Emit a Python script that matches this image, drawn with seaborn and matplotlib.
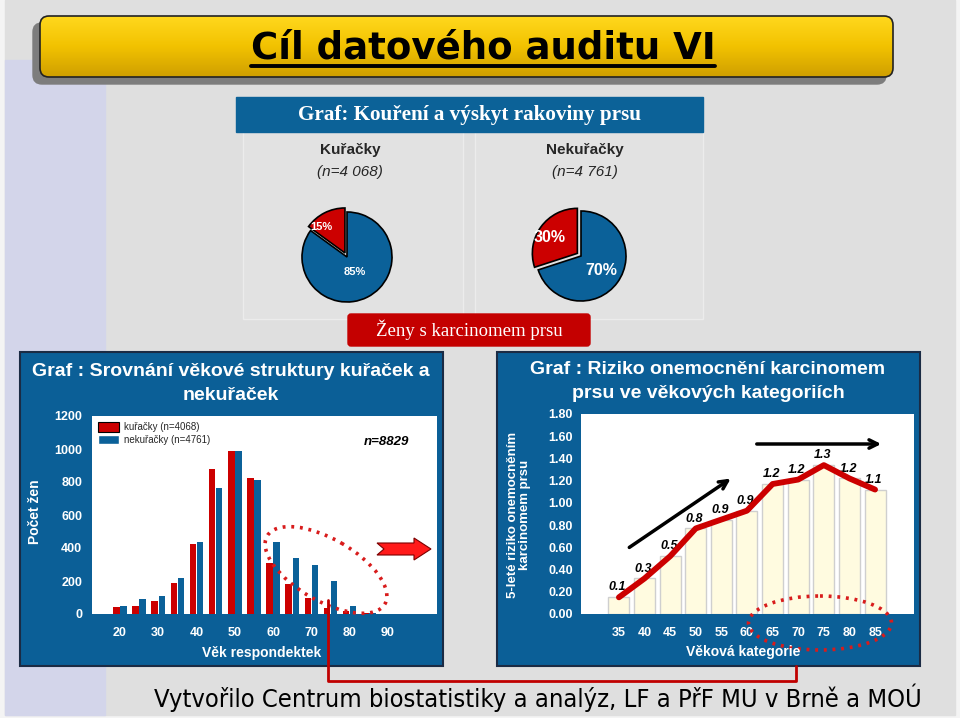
import numpy as np
import pandas as pd
import matplotlib
matplotlib.use("Agg")
import matplotlib.pyplot as plt
import seaborn as sns
from matplotlib.patches import Rectangle, FancyBboxPatch, Ellipse, Polygon, Patch
from matplotlib.colors import LinearSegmentedColormap

# ---------------- data ----------------
age_groups = [20, 25, 30, 35, 40, 45, 50, 55, 60, 65, 70, 75, 80, 85, 90]
smokers = [42, 46, 80, 187, 423, 878, 986, 823, 308, 179, 95, 36, 16, 6, 3]
nonsmokers = [46, 91, 111, 221, 435, 765, 986, 813, 435, 340, 296, 197, 50, 4, 3]
age_tick_labels = ["20", "30", "40", "50", "60", "70", "80", "90"]
series_names = ["kuřačky (n=4068)", "nekuřačky (n=4761)"]

risk_ages = [35, 40, 45, 50, 55, 60, 65, 70, 75, 80, 85]
risk = [0.15, 0.32, 0.52, 0.77, 0.85, 0.93, 1.17, 1.21, 1.34, 1.22, 1.12]
risk_labels = ["0.1", "0.3", "0.5", "0.8", "0.9", "0.9", "1.2", "1.2", "1.3", "1.2", "1.1"]

pie_smokers = [15, 85]
pie_nonsmokers = [30, 70]
pie_smokers_labels = ["15%", "85%"]
pie_nonsmokers_labels = ["30%", "70%"]

RED = "#cc0000"
BLUE = "#0b6199"
PANEL = "#0b5f97"
CREAM = "#fffbe0"

sns.set_theme(style="white")
plt.rcParams["font.family"] = ["Liberation Sans", "DejaVu Sans"]

W, H = 960, 718
fig = plt.figure(figsize=(9.6, 7.18), dpi=100, facecolor="#f4f4f4")


def px(x0, y0, x1, y1):
    return [x0 / W, 1 - y1 / H, (x1 - x0) / W, (y1 - y0) / H]


# ---------------- background ----------------
bg = fig.add_axes([0, 0, 1, 1], zorder=0)
bg.set_xlim(0, W)
bg.set_ylim(H, 0)
bg.axis("off")
bg.add_patch(Rectangle((5, 0), 950, 715, color="#dfdfdf", zorder=0))
bg.add_patch(Rectangle((5, 60), 100, 655, color="#d3d5ea", zorder=0.5))

# title box
bg.add_patch(FancyBboxPatch((33, 23), 853, 61, boxstyle="round,pad=0,rounding_size=9",
                            color="#7d7d7d", zorder=1))
box = FancyBboxPatch((40, 16), 853, 61, boxstyle="round,pad=0,rounding_size=9",
                     facecolor="none", edgecolor="#222222", lw=1.2, zorder=3)
bg.add_patch(box)
grad = np.linspace(0, 1, 100).reshape(-1, 1)
cmap = LinearSegmentedColormap.from_list("yel", ["#ffd81e", "#f2c200", "#cf9f00"])
im = bg.imshow(grad, extent=(40, 893, 77, 16), cmap=cmap, aspect="auto", zorder=2)
im.set_clip_path(box)
bg.set_xlim(0, W)
bg.set_ylim(H, 0)

# pie header & frames
bg.add_patch(Rectangle((243, 122), 220, 197, facecolor="#e2e2e2", edgecolor="#ececec", lw=1, zorder=1))
bg.add_patch(Rectangle((475, 122), 228, 197, facecolor="#e2e2e2", edgecolor="#ececec", lw=1, zorder=1))
bg.add_patch(Rectangle((236, 97), 467, 35, color="#0c6298", zorder=2))
bg.add_patch(FancyBboxPatch((348, 314), 242, 32, boxstyle="round,pad=0,rounding_size=3",
                            color="#c40000", zorder=2))

# chart panels
bg.add_patch(Rectangle((20, 352), 423, 314, facecolor=PANEL, edgecolor="#1b2b44", lw=1.5, zorder=2))
bg.add_patch(Rectangle((497, 352), 423, 314, facecolor=PANEL, edgecolor="#1b2b44", lw=1.5, zorder=2))

# ---------------- left chart: age structure ----------------
df1 = pd.DataFrame({
    "age": [str(a) for a in age_groups] * 2,
    "count": smokers + nonsmokers,
    "group": [series_names[0]] * len(age_groups) + [series_names[1]] * len(age_groups),
})
ax1 = fig.add_axes(px(92, 416, 437, 614), zorder=5)
sns.barplot(data=df1, x="age", y="count", hue="group", order=[str(a) for a in age_groups],
            hue_order=series_names, palette=[RED, BLUE], width=0.74, gap=0.08,
            saturation=1, legend=False, ax=ax1, linewidth=0)
ax1.set_facecolor("white")
ax1.set_xlim(-1.46, 16.56)
ax1.set_ylim(0, 1200)
ax1.set_yticks(range(0, 1201, 200))
ax1.set_xticks(range(0, len(age_groups), 2))
ax1.set_xticklabels(age_tick_labels)
ax1.tick_params(axis="both", length=0, colors="white", labelsize=9)
ax1.tick_params(axis="x", pad=9)
ax1.tick_params(axis="y", pad=7)
for lab in ax1.get_xticklabels() + ax1.get_yticklabels():
    lab.set_fontweight("bold")
ax1.set_xlabel("")
ax1.set_ylabel("")
for s in ax1.spines.values():
    s.set_visible(False)
ax1.legend(handles=[Patch(facecolor=RED, edgecolor="black", lw=0.8), Patch(facecolor=BLUE)],
           labels=series_names, loc="upper left", frameon=False, fontsize=7,
           handlelength=2.2, handleheight=1.2, borderaxespad=0.2, labelspacing=0.25,
           handletextpad=0.5)

# ---------------- right chart: risk ----------------
ax2 = fig.add_axes(px(581, 414, 914, 614), zorder=5)
sns.barplot(x=[str(a) for a in risk_ages], y=risk, color=CREAM, edgecolor="#cfcfcf",
            linewidth=1, width=0.82, saturation=1, ax=ax2)
sns.lineplot(x=np.arange(len(risk)), y=risk, color=RED, lw=4.2, ax=ax2, zorder=4,
             solid_capstyle="round", solid_joinstyle="round")
for i, (v, t) in enumerate(zip(risk, risk_labels)):
    ax2.text(i - 0.05, v + 0.035, t, ha="center", va="bottom", fontsize=9,
             fontweight="bold", fontstyle="italic", color="black", zorder=3)
ax2.set_facecolor("white")
ax2.set_xlim(-1.48, 11.52)
ax2.set_ylim(0, 1.8)
ax2.set_yticks(np.arange(0, 1.81, 0.2))
ax2.set_yticklabels([f"{v:.2f}" for v in np.arange(0, 1.81, 0.2)])
ax2.tick_params(axis="both", length=0, colors="white", labelsize=9)
ax2.tick_params(axis="x", pad=9)
ax2.tick_params(axis="y", pad=6)
for lab in ax2.get_xticklabels() + ax2.get_yticklabels():
    lab.set_fontweight("bold")
ax2.set_xlabel("")
ax2.set_ylabel("")
for s in ax2.spines.values():
    s.set_visible(False)

# ---------------- pies ----------------
R = 45
for cx, cy, vals, labs, lpos, fs in [
    (347, 257, pie_smokers, pie_smokers_labels, [(-0.56, 0.67), (0.18, -0.33)], 8),
    (581, 256, pie_nonsmokers, pie_nonsmokers_labels, [(-0.69, 0.40), (0.45, -0.32)], 11.5),
]:
    axp = fig.add_axes(px(cx - 60, cy - 60, cx + 60, cy + 60), zorder=5)
    axp.pie(vals, colors=[RED, BLUE], startangle=90, counterclock=True, explode=[0.1, 0],
            wedgeprops=dict(edgecolor="black", linewidth=1.2))
    axp.set_xlim(-60 / R, 60 / R)
    axp.set_ylim(-60 / R, 60 / R)
    axp.set_aspect("equal")
    axp.axis("off")
    for (lx, ly), t in zip(lpos, labs):
        axp.text(lx, ly, t, ha="center", va="center", color="white", fontsize=fs,
                 fontweight="bold")

# ---------------- overlay ----------------
ov = fig.add_axes([0, 0, 1, 1], zorder=10)
ov.set_xlim(0, W)
ov.set_ylim(H, 0)
ov.axis("off")
ov.patch.set_alpha(0)

title = ov.text(483, 48, "Cíl datového auditu VI", ha="center", va="center", fontsize=26.7,
                fontweight="bold", family="DejaVu Sans", color="black")
ov.text(469, 115, "Graf: Kouření a výskyt rakoviny prsu", ha="center", va="center",
        fontsize=15.2, fontweight="bold", family="Liberation Serif", color="white")
ov.text(350, 150, "Kuřačky", ha="center", va="center", fontsize=11, fontweight="bold")
ov.text(350, 172, "(n=4 068)", ha="center", va="center", fontsize=11, fontstyle="italic")
ov.text(585, 150, "Nekuřačky", ha="center", va="center", fontsize=11, fontweight="bold")
ov.text(585, 172, "(n=4 761)", ha="center", va="center", fontsize=11, fontstyle="italic")
ov.text(469, 330, "Ženy s karcinomem prsu", ha="center", va="center", fontsize=13.5,
        family="Liberation Serif", color="white")

ov.text(231, 371, "Graf : Srovnání věkové struktury kuřaček a", ha="center", va="center",
        fontsize=14, fontweight="bold", color="white")
ov.text(231, 395, "nekuřaček", ha="center", va="center", fontsize=14, fontweight="bold",
        color="white")
ov.text(35, 512, "Počet žen", ha="center", va="center", rotation=90, fontsize=10,
        fontweight="bold", color="white")
ov.text(262, 653, "Věk respondektek", ha="center", va="center", fontsize=10,
        fontweight="bold", color="white")
ov.text(386, 442, "n=8829", ha="center", va="center", fontsize=9.5, fontweight="bold",
        fontstyle="italic", color="black")

ov.text(708, 370, "Graf : Riziko onemocnění karcinomem", ha="center", va="center",
        fontsize=14, fontweight="bold", color="white")
ov.text(708, 394, "prsu ve věkových kategoriích", ha="center", va="center",
        fontsize=14, fontweight="bold", color="white")
ov.text(519, 515, "5-leté riziko onemocněním\nkarcinomem prsu", ha="center", va="center",
        rotation=90, fontsize=9.5, fontweight="bold", color="white", linespacing=1.1)
ov.text(743, 652, "Věková kategorie", ha="center", va="center", fontsize=10,
        fontweight="bold", color="white")

ov.text(538, 698, "Vytvořilo Centrum biostatistiky a analýz, LF a PřF MU v Brně a MOÚ",
        ha="center", va="center", fontsize=18.3, family="DejaVu Sans",
        fontstretch="condensed", color="black")

# red block arrow (left chart)
ov.add_patch(Polygon([(377, 543), (414, 543), (414, 538), (431, 549), (414, 560),
                      (414, 555), (377, 555), (384, 549)], closed=True,
                     facecolor="#ff1a1a", edgecolor="#7a0000", lw=0.8))

# dotted ellipses
ov.add_patch(Ellipse((326, 570), 136, 62, angle=30, fill=False, edgecolor="#d81c1c",
                     lw=2.6, linestyle=(0, (0.8, 1.6))))
ov.add_patch(Ellipse((820, 623), 143, 54, angle=0, fill=False, edgecolor="#d81c1c",
                     lw=2.6, linestyle=(0, (0.8, 1.6))))

# connector
ov.plot([328, 328, 796, 796], [600, 681, 681, 666], color="#c00000", lw=2)

# black arrows
ov.annotate("", xy=(733, 477), xytext=(627, 549),
            arrowprops=dict(arrowstyle="->,head_length=0.5,head_width=0.25", lw=2.5, color="black"))
ov.annotate("", xy=(884, 444), xytext=(754, 444),
            arrowprops=dict(arrowstyle="->,head_length=0.5,head_width=0.25", lw=2.5, color="black"))

# underline title
fig.canvas.draw()
bb = title.get_window_extent()
inv = ov.transData.inverted()
(x0, yb), (x1, yt) = inv.transform([[bb.x0, bb.y0], [bb.x1, bb.y1]])
ov.plot([x0, x1], [yb - 1, yb - 1], color="black", lw=2.8)

fig.savefig("out.png", dpi=100, facecolor=fig.get_facecolor())
